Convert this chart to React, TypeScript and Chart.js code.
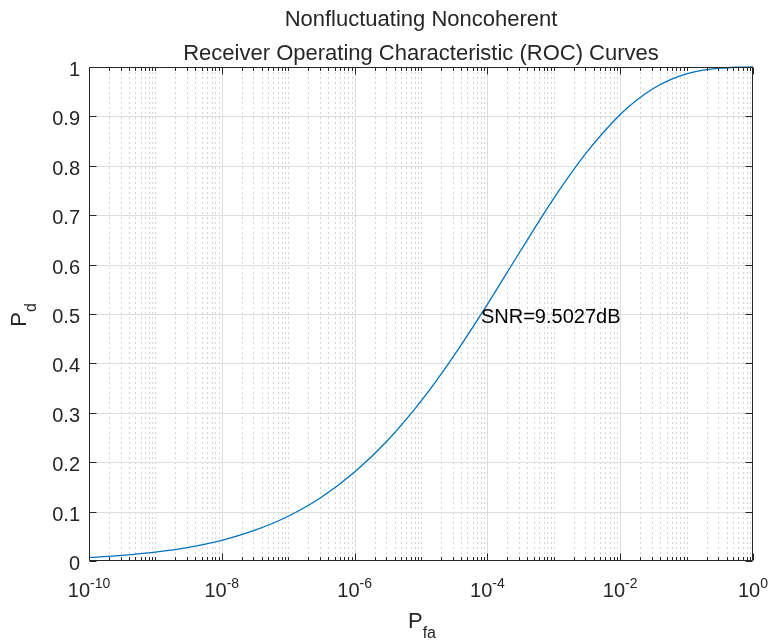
import { useEffect, useRef } from "react";
import { Chart, registerables } from "chart.js";

Chart.register(...registerables);

// ---- data ----
const pfa = [
  1e-10, 3.16e-10, 1e-9, 3.16e-9, 1e-8, 3.16e-8, 1e-7, 3.16e-7, 1e-6, 3.16e-6,
  1e-5, 3.16e-5, 1e-4, 3.16e-4, 1e-3, 3.16e-3, 1e-2, 1.78e-2, 3.16e-2, 5.62e-2,
  1e-1, 1.78e-1, 3.16e-1, 5.62e-1, 1,
];
const pd = [
  0.0072, 0.0115, 0.018, 0.0277, 0.0419, 0.0623, 0.0906, 0.129, 0.18, 0.2445,
  0.3235, 0.4164, 0.5195, 0.628, 0.734, 0.828, 0.904, 0.9334, 0.9566, 0.974,
  0.986, 0.9935, 0.9976, 0.9995, 1.0,
];

const yTicks = [0, 0.1, 0.2, 0.3, 0.4, 0.5, 0.6, 0.7, 0.8, 0.9, 1];
const yTickLabels = ["0", "0.1", "0.2", "0.3", "0.4", "0.5", "0.6", "0.7", "0.8", "0.9", "1"];
const xMajorTicks = [1e-10, 1e-8, 1e-6, 1e-4, 1e-2, 1];
const xTickBase = "10";
const xTickExps = ["-10", "-8", "-6", "-4", "-2", "0"];
const xDecades = [-10, -9, -8, -7, -6, -5, -4, -3, -2, -1];

const titleLines = ["Nonfluctuating Noncoherent", "Receiver Operating Characteristic (ROC) Curves"];
const xLabelMain = "P";
const xLabelSub = "fa";
const yLabelMain = "P";
const yLabelSub = "d";
const annotationText = "SNR=9.5027dB";
const annotationX = 8.0e-5;
const annotationY = 0.5;

// ---- style ----
const FONT = '"Liberation Sans", Arial, Helvetica, sans-serif';
const AX = "#262626";
const LINE = "#0072BD";

function minorXValues(): number[] {
  const out: number[] = [];
  for (const k of xDecades) {
    for (let n = 1; n <= 9; n++) {
      const v = n * Math.pow(10, k);
      const isMajor = n === 1 && k % 2 === 0;
      if (!isMajor) out.push(v);
    }
  }
  return out;
}

function drawSubText(
  ctx: CanvasRenderingContext2D,
  main: string,
  sub: string,
  cx: number,
  baseline: number,
  mainSize: number,
  subSize: number,
  drop: number
) {
  ctx.font = `${mainSize}px ${FONT}`;
  const w1 = ctx.measureText(main).width;
  ctx.font = `${subSize}px ${FONT}`;
  const w2 = ctx.measureText(sub).width;
  const start = cx - (w1 + w2) / 2;
  ctx.textAlign = "left";
  ctx.textBaseline = "alphabetic";
  ctx.font = `${mainSize}px ${FONT}`;
  ctx.fillText(main, start, baseline);
  ctx.font = `${subSize}px ${FONT}`;
  ctx.fillText(sub, start + w1, baseline + drop);
}

const matlabPlugin = {
  id: "matlabAxes",
  beforeDatasetsDraw(chart: any) {
    const { ctx, chartArea: a, scales } = chart;
    const xs = scales.x;
    const ys = scales.y;
    ctx.save();
    ctx.lineWidth = 1;
    // minor x grid (dotted)
    ctx.strokeStyle = "#d4d4d4";
    ctx.setLineDash([2, 3]);
    for (const v of minorXValues()) {
      const px = Math.round(xs.getPixelForValue(v)) + 0.5;
      if (px <= a.left + 1 || px >= a.right - 1) continue;
      ctx.beginPath();
      ctx.moveTo(px, a.top);
      ctx.lineTo(px, a.bottom);
      ctx.stroke();
    }
    ctx.setLineDash([]);
    // major grid
    ctx.strokeStyle = "#dedede";
    for (const v of xMajorTicks) {
      const px = Math.round(xs.getPixelForValue(v)) + 0.5;
      if (px <= a.left + 1 || px >= a.right - 1) continue;
      ctx.beginPath();
      ctx.moveTo(px, a.top);
      ctx.lineTo(px, a.bottom);
      ctx.stroke();
    }
    for (const v of yTicks) {
      const py = Math.round(ys.getPixelForValue(v)) + 0.5;
      if (py <= a.top + 1 || py >= a.bottom - 1) continue;
      ctx.beginPath();
      ctx.moveTo(a.left, py);
      ctx.lineTo(a.right, py);
      ctx.stroke();
    }
    ctx.restore();
  },
  afterDatasetsDraw(chart: any) {
    const { ctx, chartArea: a, scales } = chart;
    const xs = scales.x;
    const ys = scales.y;
    ctx.save();
    ctx.strokeStyle = AX;
    ctx.fillStyle = AX;
    ctx.lineWidth = 1;
    const L = a.left + 0.5;
    const R = a.right - 0.5;
    const T = a.top + 0.5;
    const B = a.bottom - 0.5;
    // box
    ctx.beginPath();
    ctx.moveTo(L, T);
    ctx.lineTo(R, T);
    ctx.lineTo(R, B);
    ctx.lineTo(L, B);
    ctx.closePath();
    ctx.stroke();
    // y ticks (inward, both sides)
    for (const v of yTicks) {
      const py = Math.round(ys.getPixelForValue(v)) + 0.5;
      ctx.beginPath();
      ctx.moveTo(L, py);
      ctx.lineTo(L + 7, py);
      ctx.moveTo(R, py);
      ctx.lineTo(R - 7, py);
      ctx.stroke();
    }
    // x major ticks
    for (const v of xMajorTicks) {
      const px = Math.round(xs.getPixelForValue(v)) + 0.5;
      ctx.beginPath();
      ctx.moveTo(px, B);
      ctx.lineTo(px, B - 7);
      ctx.moveTo(px, T);
      ctx.lineTo(px, T + 7);
      ctx.stroke();
    }
    // x minor ticks
    for (const v of minorXValues()) {
      const px = Math.round(xs.getPixelForValue(v)) + 0.5;
      ctx.beginPath();
      ctx.moveTo(px, B);
      ctx.lineTo(px, B - 3.5);
      ctx.moveTo(px, T);
      ctx.lineTo(px, T + 3.5);
      ctx.stroke();
    }
    // y tick labels
    ctx.font = `20px ${FONT}`;
    ctx.textAlign = "right";
    ctx.textBaseline = "alphabetic";
    yTicks.forEach((v, i) => {
      const py = ys.getPixelForValue(v);
      ctx.fillText(yTickLabels[i], a.left - 9, py + 9);
    });
    // x tick labels: 10^k
    xMajorTicks.forEach((v, i) => {
      const px = xs.getPixelForValue(v);
      ctx.font = `20px ${FONT}`;
      const w1 = ctx.measureText(xTickBase).width;
      ctx.font = `14px ${FONT}`;
      const w2 = ctx.measureText(xTickExps[i]).width;
      const start = px - (w1 + w2) / 2;
      ctx.textAlign = "left";
      ctx.font = `20px ${FONT}`;
      ctx.fillText(xTickBase, start, a.bottom + 36);
      ctx.font = `14px ${FONT}`;
      ctx.fillText(xTickExps[i], start + w1, a.bottom + 27);
    });
    // x axis label
    const cx = (a.left + a.right) / 2;
    drawSubText(ctx, xLabelMain, xLabelSub, cx + 1, 628, 22, 16, 10);
    // y axis label (rotated)
    ctx.save();
    ctx.translate(25.5, (a.top + a.bottom) / 2 + 1);
    ctx.rotate(-Math.PI / 2);
    drawSubText(ctx, yLabelMain, yLabelSub, 0, 0, 22, 16, 10);
    ctx.restore();
    // title
    ctx.font = `22px ${FONT}`;
    ctx.textAlign = "center";
    ctx.textBaseline = "alphabetic";
    ctx.fillText(titleLines[0], cx, 26);
    ctx.fillText(titleLines[1], cx, 60);
    // annotation
    ctx.font = `20px ${FONT}`;
    ctx.textAlign = "left";
    ctx.fillStyle = "#000000";
    ctx.fillText(
      annotationText,
      xs.getPixelForValue(annotationX),
      ys.getPixelForValue(annotationY) + 9
    );
    ctx.restore();
  },
};

export default function App() {
  const canvasRef = useRef<HTMLCanvasElement | null>(null);

  useEffect(() => {
    const canvas = canvasRef.current;
    if (!canvas) return;
    const chart = new Chart(canvas, {
      type: "line",
      data: {
        datasets: [
          {
            data: pfa.map((x, i) => ({ x, y: pd[i] })),
            borderColor: LINE,
            borderWidth: 1.3,
            pointRadius: 0,
            fill: false,
            cubicInterpolationMode: "monotone",
            clip: 3,
          } as any,
        ],
      },
      options: {
        animation: false,
        responsive: false,
        devicePixelRatio: 1,
        layout: { padding: { left: 89, right: 17, top: 67, bottom: 81 } },
        plugins: {
          legend: { display: false },
          title: { display: false },
          tooltip: { enabled: false },
        },
        scales: {
          x: { type: "logarithmic", min: 1e-10, max: 1, display: false },
          y: { type: "linear", min: 0, max: 1, display: false },
        },
      },
      plugins: [matlabPlugin],
    });
    return () => chart.destroy();
  }, []);

  return (
    <div style={{ position: "absolute", left: 0, top: 0, width: 770, height: 642, background: "#ffffff" }}>
      <canvas ref={canvasRef} width={770} height={642} style={{ display: "block" }} />
    </div>
  );
}
